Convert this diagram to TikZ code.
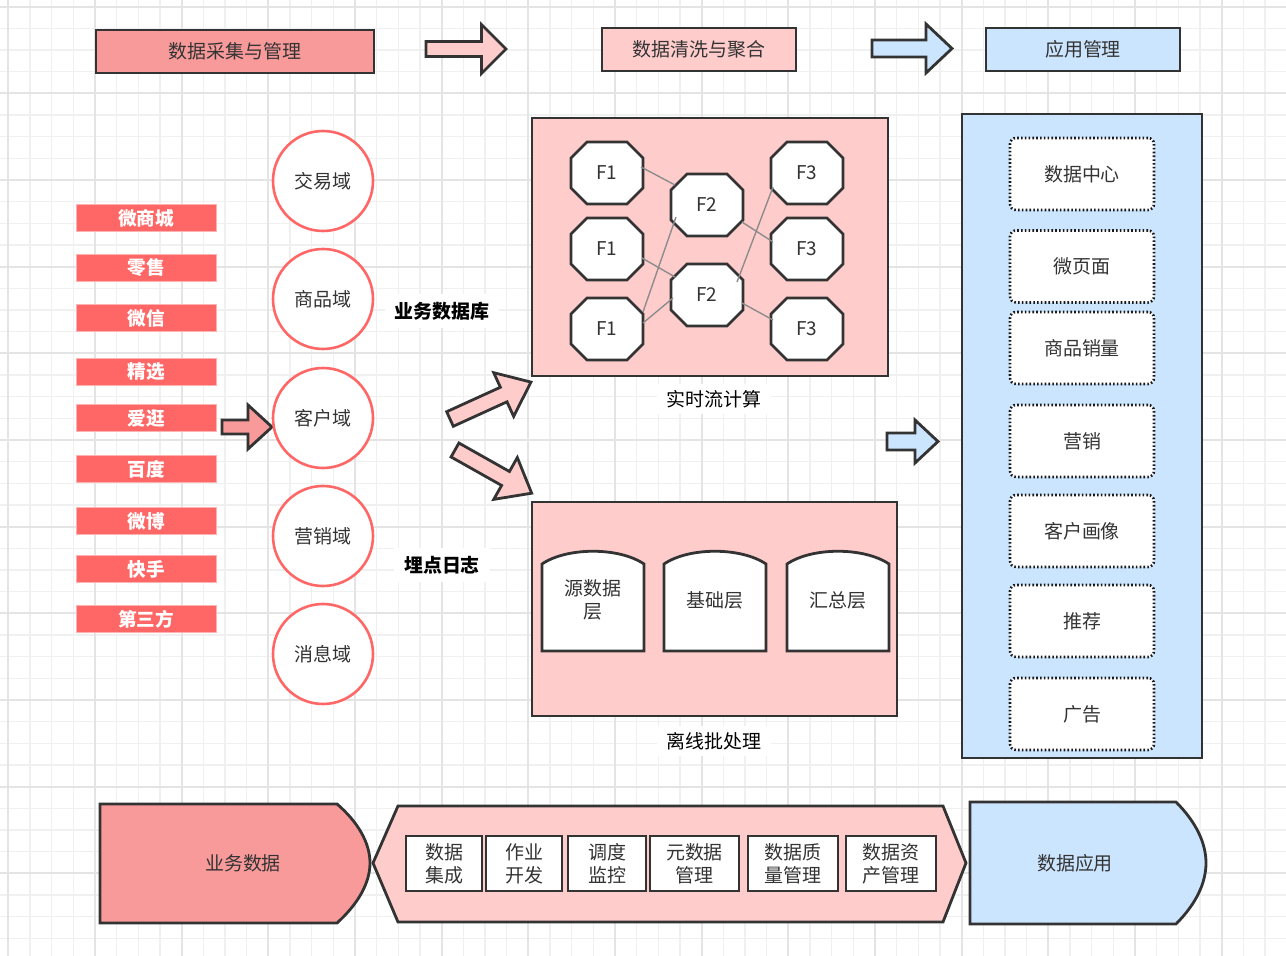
\documentclass[tikz,border=0pt]{standalone}
\usepackage{fontspec}
\setmainfont{Noto Sans CJK SC}
\usetikzlibrary{positioning,calc}

\definecolor{edge}{HTML}{333333}
\definecolor{textc}{HTML}{333333}
\definecolor{salmon}{HTML}{F89A9A}
\definecolor{pinkbg}{HTML}{FFCCCC}
\definecolor{bluebg}{HTML}{CCE5FF}
\definecolor{redpill}{HTML}{FF6666}
\definecolor{gridlo}{HTML}{F0F0F0}
\definecolor{gridhi}{HTML}{E4E4E4}

\newdimen\pxu \pxu=0.02cm

% fat block arrow: style, start, angle, length, head length, half shaft, half head
\newcommand{\fatarrow}[7]{%
  \draw[fatarr,#1,shift={(#2)},rotate=#3] (0,-#6) -- ({#4-#5},-#6) -- ({#4-#5},-#7)
    -- (#4,0) -- ({#4-#5},#7) -- ({#4-#5},#6) -- (0,#6) -- cycle;}

\begin{document}
\begin{tikzpicture}[x=0.02cm, y=-0.02cm, font=\fontsize{10.8}{13}\selectfont, text=textc,
    gridminor/.style={draw=gridlo, line width=1.5\pxu},
    gridmajor/.style={draw=gridhi, line width=2\pxu},
    head/.style={draw=edge, line width=2.8\pxu, minimum height=43\pxu, inner sep=0pt},
    fatarr/.style={draw=edge, line width=2.8\pxu, line join=miter},
    pill/.style={fill=redpill, draw=redpill!50!white, line width=1\pxu, minimum width=140\pxu,
        minimum height=27\pxu, inner sep=0pt, text=white, font=\fontsize{10.6}{12}\selectfont\bfseries},
    domcircle/.style={circle, draw=redpill, fill=white, line width=2.6\pxu, minimum size=100\pxu, inner sep=0pt},
    panel/.style={draw=edge, line width=2.8\pxu, inner sep=0pt},
    octline/.style={draw=edge, fill=white, line width=2.8\pxu},
    flow/.style={draw=black!45, line width=1.4\pxu},
    tag/.style={fill=white, inner xsep=10\pxu, inner ysep=8\pxu, text=black, font=\fontsize{10.8}{13}\selectfont\bfseries},
    caption/.style={fill=white, inner xsep=10\pxu, inner ysep=6\pxu, text=black},
    appbox/.style={draw=black!90, fill=white, line width=2.6\pxu, dash pattern=on 1.6\pxu off 2.2\pxu,
        rounded corners=6\pxu, minimum width=144\pxu, minimum height=72\pxu, inner sep=0pt},
    tool/.style={draw=edge, fill=white, line width=2.4\pxu, minimum height=55\pxu, inner sep=0pt, align=center}]

    \useasboundingbox (0,0) rectangle (1286,956);
    \fill[white] (0,0) rectangle (1286,956);

    % background grid
    \foreach \i in {0,...,59} \draw[gridminor] ({8.3+21.667*\i},0) -- ++(0,956);
    \foreach \j in {0,...,44} \draw[gridminor] (0,{6.7+21.667*\j}) -- ++(1286,0);
    \foreach \i in {0,...,14} \draw[gridmajor] ({8.3+86.667*\i},0) -- ++(0,956);
    \foreach \j in {0,...,11} \draw[gridmajor] (0,{6.7+86.667*\j}) -- ++(1286,0);

    % top row
    \node[head, fill=salmon, minimum width=278\pxu] (collect) at (235,51.5) {数据采集与管理};
    \node[head, fill=pinkbg, minimum width=194\pxu] (clean) at (699,49.5) {数据清洗与聚合};
    \node[head, fill=bluebg, minimum width=194\pxu] (manage) at (1083,49.5) {应用管理};
    \fatarrow{fill=pinkbg}{426,49}{0}{80}{24.5}{7.5}{24.5}
    \fatarrow{fill=bluebg}{872,48.5}{0}{80}{26}{8.5}{24.5}

    % sources
    \foreach \y/\t [count=\i] in {218.5/微商城, 268/零售, 318/微信, 372/精选, 418/爱逛,
        469/百度, 521/微博, 569/快手, 619/第三方}
        \node[pill] (src\i) at (146,\y) {\t};
    \fatarrow{fill=salmon}{222,427}{0}{50}{24}{7}{22}

    % domains
    \foreach \y/\t/\n in {181/交易域/trade, 299/商品域/goods, 418/客户域/cust, 536/营销域/mkt, 654/消息域/msg}
        \node[domcircle] (\n) at (323,\y) {\t};

    \node[tag] (bizdb) at (442,311) {业务数据库};
    \node[tag] (track) at (442,565) {埋点日志};
    \fatarrow{fill=pinkbg}{450,419}{24.5}{89}{30}{8}{24}
    \fatarrow{fill=pinkbg}{455,450}{-29.4}{88}{30}{8}{24}

    % real-time stream
    \node[panel, fill=pinkbg, minimum width=356\pxu, minimum height=258\pxu] (stream) at (710,247) {};
    \node[caption] (streamcap) at (714,399) {实时流计算};
    \foreach \n/\cx/\cy/\t in {f1a/607/173/F1, f1b/607/249/F1, f1c/607/329/F1, f2a/707/205/F2,
        f2b/707/295/F2, f3a/807/173/F3, f3b/807/249/F3, f3c/807/329/F3} {
        \draw[octline] (\cx,\cy) +(-20,-31) -- +(20,-31) -- +(36,-15) -- +(36,15) -- +(20,31)
            -- +(-20,31) -- +(-36,15) -- +(-36,-15) -- cycle;
        \node[inner sep=0pt, minimum width=72\pxu, minimum height=62\pxu] (\n) at (\cx,\cy) {\t};
    }
    \draw[flow] ($(f1a)+(34,-6)$) -- ($(f2a)+(-32,-20)$);
    \draw[flow] ($(f1b)+(35,9)$) -- ($(f2b)+(-32,-18)$);
    \draw[flow] ($(f1c)+(36,-17)$) -- ($(f2a)+(-31,12)$);
    \draw[flow] ($(f1c)+(36,-6)$) -- ($(f2b)+(-34,3)$);
    \draw[flow] ($(f2a)+(35,17)$) -- ($(f3b)+(-34,-7)$);
    \draw[flow] ($(f2b)+(30,-13)$) -- ($(f3a)+(-34,14)$);
    \draw[flow] ($(f2b)+(35,8)$) -- ($(f3c)+(-34,-9)$);

    % offline batch
    \node[panel, fill=pinkbg, minimum width=365\pxu, minimum height=214\pxu] (batch) at (714.5,609) {};
    \node[caption] (batchcap) at (714,741) {离线批处理};
    \foreach \l/\r/\n/\t in {542/644/ods/{源数据\\层}, 664/766/dwd/基础层, 787/889/dws/汇总层} {
        \draw[octline] (\l,651) -- (\l,564) .. controls ({\l+25},547) and ({\r-25},547) .. (\r,564)
            -- (\r,651) -- cycle;
        \node[align=center, inner sep=0pt] (\n) at ({(\l+\r)/2},600) {\t};
    }
    \fatarrow{fill=bluebg}{887,441.5}{0}{51}{23}{8.5}{21.5}

    % applications
    \node[panel, fill=bluebg, minimum width=240\pxu, minimum height=644\pxu] (apps) at (1082,436) {};
    \foreach \y/\t/\n in {174/数据中心/center, 266.5/微页面/page, 348/商品销量/sales, 441/营销/promo,
        531/客户画像/profile, 621/推荐/recommend, 714/广告/ads}
        \node[appbox] (\n) at (1082,\y) {\t};

    % bottom band
    \draw[panel, fill=salmon] (100,804) -- (337,804) .. controls (358,822) and (370,843) .. (370,863)
        .. controls (370,883) and (358,904) .. (337,923) -- (100,923) -- cycle;
    \node (bizdata) at (243,863) {业务数据};
    \draw[panel, fill=pinkbg] (373,863) -- (398,806) -- (943,806) -- (966,863) -- (943,922) -- (398,922) -- cycle;
    \node[tool, minimum width=76\pxu] (integ) at (444,863.5) {数据\\集成};
    \node[tool, minimum width=76\pxu] (dev) at (524,863.5) {作业\\开发};
    \node[tool, minimum width=78\pxu] (sched) at (607,863.5) {调度\\监控};
    \node[tool, minimum width=89\pxu] (meta) at (694.5,863.5) {元数据\\管理};
    \node[tool, minimum width=90\pxu] (quality) at (793,863.5) {数据质\\量管理};
    \node[tool, minimum width=90\pxu] (asset) at (891,863.5) {数据资\\产管理};
    \draw[panel, fill=bluebg] (970,802) -- (1176,802) .. controls (1196,822) and (1206,843) .. (1206,863)
        .. controls (1206,883) and (1196,904) .. (1176,924) -- (970,924) -- cycle;
    \node (dataapp) at (1075,863) {数据应用};

\end{tikzpicture}
\end{document}
